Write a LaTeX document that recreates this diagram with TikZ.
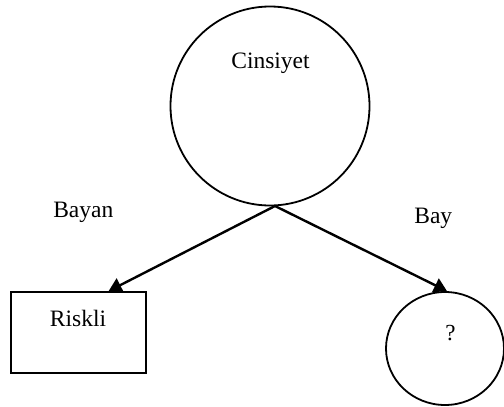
\documentclass[tikz,border=0pt]{standalone}
\usepackage{fontspec}
\setmainfont{Liberation Serif}
\usetikzlibrary{arrows.meta,shapes.geometric,calc}
\begin{document}
\begin{tikzpicture}[x=1pt,y=-1pt,
  shapeline/.style={draw=black, line width=1.8pt, inner sep=0pt},
  txt/.style={anchor=base, inner sep=0pt, font=\fontsize{23.5}{26}\selectfont},
  branch/.style={line width=2.4pt, -{Triangle[length=13pt,width=15pt]}}]
  \useasboundingbox (0,0) rectangle (504,407);
  % root attribute
  \node[shapeline, circle, minimum size=199pt] (cins) at (270,106) {};
  \node[txt] (cinsl) at (270.5,68.3) {Cinsiyet};
  % leaves
  \node[shapeline, rectangle, minimum width=134.7pt, minimum height=81pt] (riskli) at (78.3,332.5) {};
  \node[txt] (risklil) at (78,326.7) {Riskli};
  \node[shapeline, ellipse, minimum width=118pt, minimum height=113pt] (unk) at (445,348.5) {};
  \node[anchor=base, inner sep=0pt, font=\fontsize{23}{26}\selectfont] (unkl) at (450.5,340) {?};
  % branch labels
  \node[txt] (bayan) at (83.3,217.3) {Bayan};
  \node[txt] (bay) at (433.3,223.3) {Bay};
  % branches
  \coordinate (split) at (275,206);
  \draw[branch] (split) -- ($(riskli.north west)!0.722!(riskli.north east)$);
  \draw[branch] (split) -- ($(unk.north)+(2,0)$);
\end{tikzpicture}
\end{document}
